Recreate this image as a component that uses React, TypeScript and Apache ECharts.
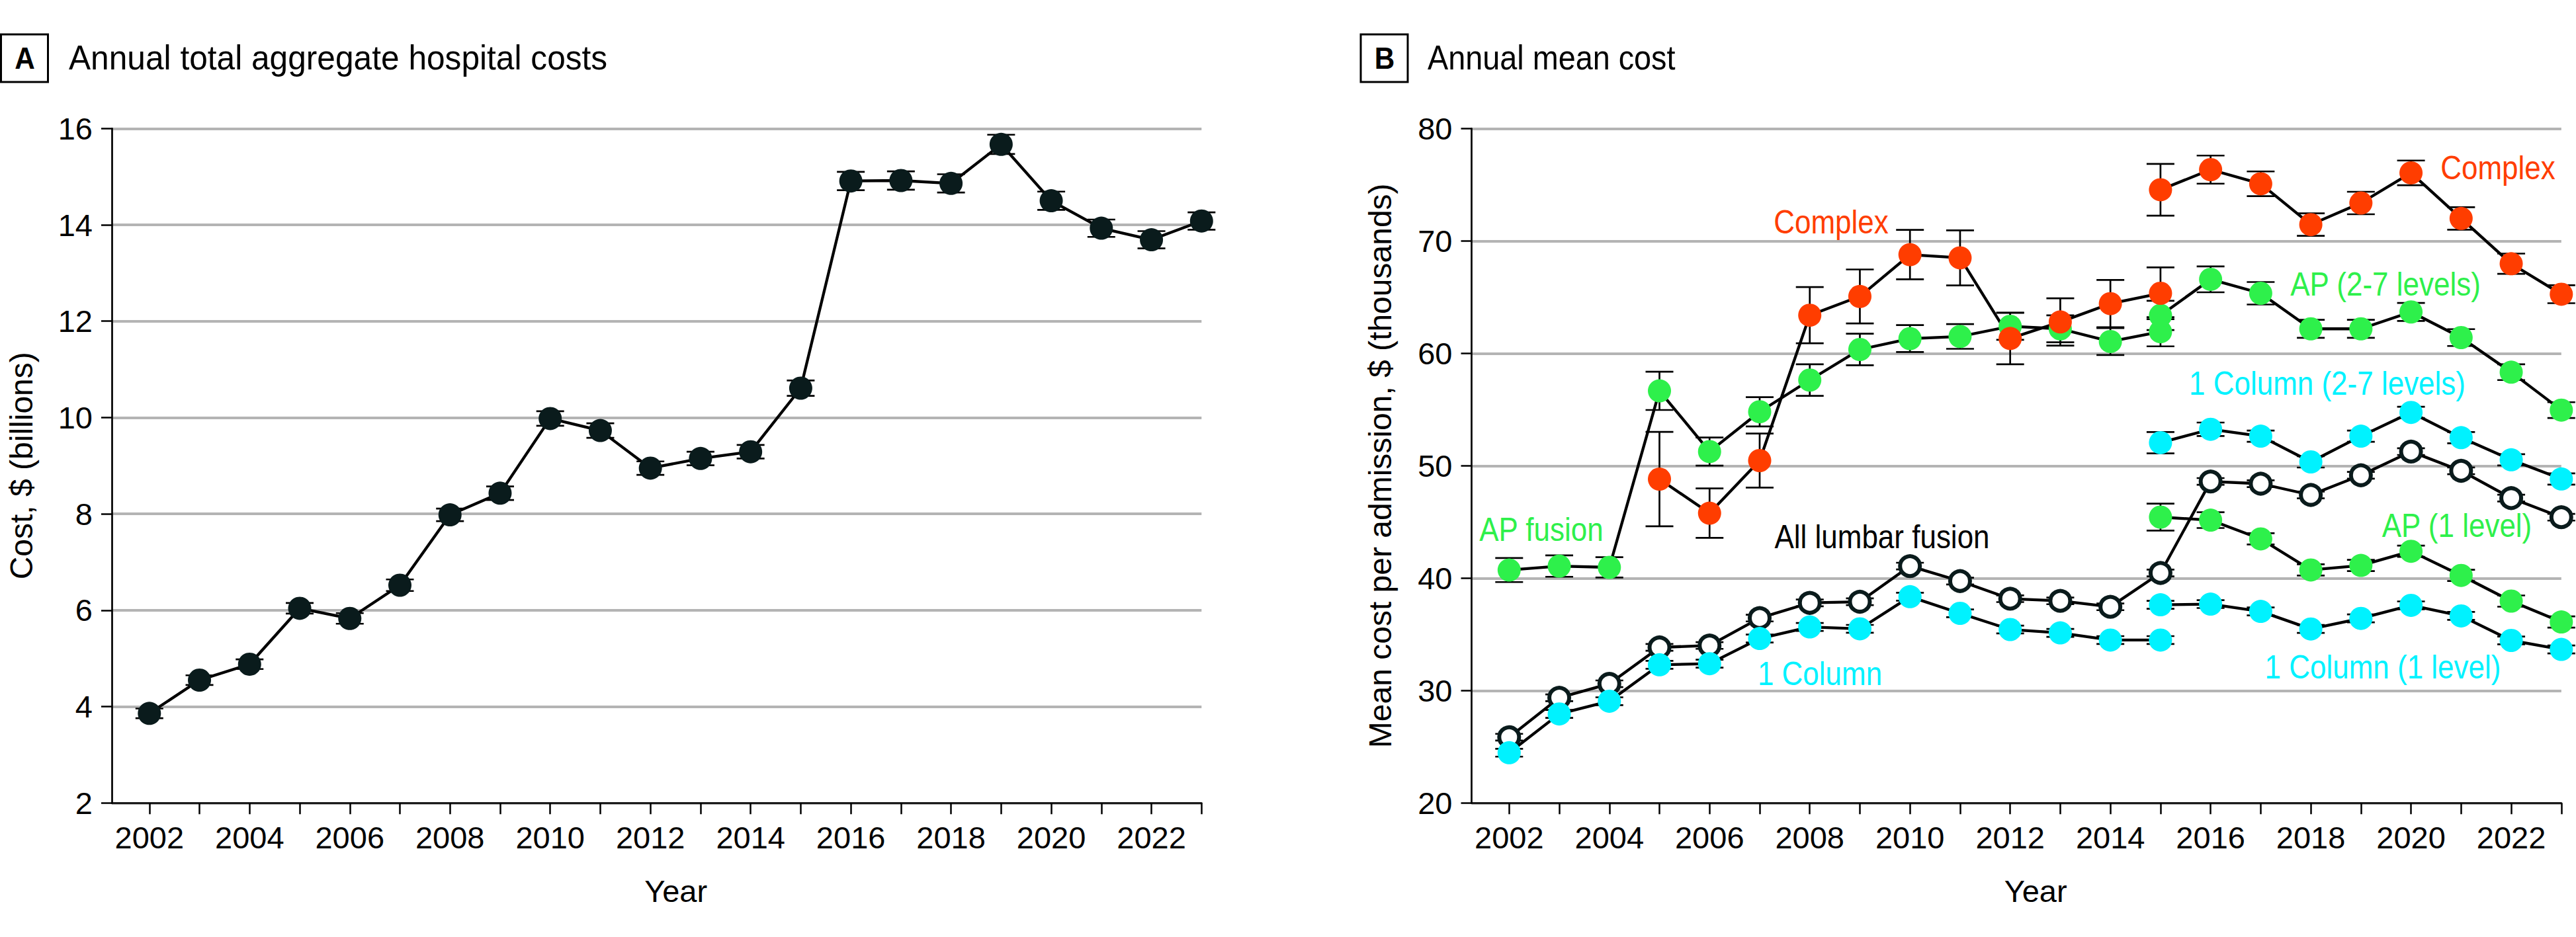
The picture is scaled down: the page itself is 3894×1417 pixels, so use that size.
import React, { useEffect, useRef } from "react";
import * as echarts from "echarts";

// ---------- Shared axis values ----------
const years = [2002, 2003, 2004, 2005, 2006, 2007, 2008, 2009, 2010, 2011, 2012, 2013, 2014, 2015, 2016, 2017, 2018, 2019, 2020, 2021, 2022, 2023];
const yearLabels = [2002, 2004, 2006, 2008, 2010, 2012, 2014, 2016, 2018, 2020, 2022];

// ---------- Panel A: annual total aggregate hospital costs ($ billions) ----------
const aggregateCost = [3.86, 4.55, 4.88, 6.04, 5.83, 6.52, 7.98, 8.43, 9.98, 9.73, 8.95, 9.15, 9.29, 10.61, 14.91, 14.92, 14.86, 15.67, 14.5, 13.93, 13.69, 14.08];
const aggregateCostErr = [0.1, 0.1, 0.1, 0.11, 0.11, 0.12, 0.13, 0.14, 0.15, 0.15, 0.14, 0.14, 0.14, 0.16, 0.19, 0.19, 0.19, 0.2, 0.19, 0.18, 0.18, 0.18];

// ---------- Panel B: annual mean cost per admission ($ thousands) ----------
const earlyYears = [2002, 2003, 2004, 2005, 2006, 2007, 2008, 2009, 2010, 2011, 2012, 2013, 2014, 2015];
const complexEarlyYears = [2005, 2006, 2007, 2008, 2009, 2010, 2011, 2012, 2013, 2014, 2015];
const lateYears = [2015, 2016, 2017, 2018, 2019, 2020, 2021, 2022, 2023];

const allLumbar = [25.85, 29.36, 30.6, 33.84, 34.01, 36.45, 37.8, 37.9, 41.07, 39.74, 38.17, 37.98, 37.45, 40.46, 48.6, 48.4, 47.4, 49.15, 51.26, 49.55, 47.12, 45.42];
const allLumbarErr = [0.3, 0.3, 0.3, 0.3, 0.3, 0.3, 0.3, 0.3, 0.3, 0.3, 0.3, 0.3, 0.3, 0.3, 0.3, 0.3, 0.3, 0.3, 0.3, 0.3, 0.3, 0.3];

const apFusion = [40.72, 41.07, 40.96, 56.66, 51.26, 54.8, 57.62, 60.34, 61.31, 61.5, 62.4, 62.18, 61.05, 61.92];
const apFusionErr = [1.07, 0.95, 0.9, 1.7, 1.25, 1.3, 1.4, 1.4, 1.2, 1.1, 1.2, 1.2, 1.2, 1.3];

const oneColumn = [24.47, 27.92, 29.05, 32.29, 32.39, 34.63, 35.66, 35.49, 38.35, 36.87, 35.43, 35.13, 34.49, 34.49];
const oneColumnErr = [0.35, 0.35, 0.35, 0.35, 0.35, 0.35, 0.35, 0.35, 0.35, 0.35, 0.35, 0.35, 0.35, 0.35];

const complexEarly = [48.81, 45.78, 50.46, 63.39, 65.06, 68.78, 68.49, 61.32, 62.79, 64.42, 65.34];
const complexEarlyErr = [4.2, 2.2, 2.4, 2.5, 2.4, 2.2, 2.45, 2.3, 2.1, 2.1, 2.3];

const complexLate = [74.55, 76.34, 75.08, 71.45, 73.37, 76.05, 72.0, 67.97, 65.26];
const complexLateErr = [2.3, 1.25, 1.1, 1.0, 1.0, 1.1, 1.0, 0.9, 0.8];

const apMulti = [63.37, 66.58, 65.34, 62.18, 62.18, 63.68, 61.4, 58.32, 54.95];
const apMultiErr = [1.3, 1.15, 1.0, 0.8, 0.8, 0.8, 0.75, 0.7, 0.7];

const apSingle = [45.43, 45.16, 43.49, 40.73, 41.13, 42.39, 40.24, 37.96, 36.1];
const apSingleErr = [1.2, 0.7, 0.5, 0.5, 0.5, 0.5, 0.5, 0.5, 0.5];

const columnMulti = [52.05, 53.24, 52.63, 50.34, 52.63, 54.74, 52.5, 50.53, 48.82];
const columnMultiErr = [0.95, 0.6, 0.5, 0.5, 0.5, 0.5, 0.5, 0.5, 0.5];

const columnSingle = [37.63, 37.69, 37.04, 35.48, 36.42, 37.58, 36.64, 34.46, 33.66];
const columnSingleErr = [0.35, 0.35, 0.35, 0.35, 0.35, 0.35, 0.35, 0.35, 0.35];

// ---------- Styling ----------
const FONT = '"Liberation Sans", Arial, sans-serif';
const DARK = "#0a1b1c";
const ORANGE = "#ff3d00";
const GREEN = "#2ef04b";
const CYAN = "#00f2ff";
const GRID_GRAY = "#b4b4b4";
const SYMBOL = 35;

const pairs = (xs: number[], ys: number[]) => xs.map((x, i) => [x, ys[i]]);
const bounds = (xs: number[], ys: number[], es: number[]) => xs.map((x, i) => [x, ys[i] - es[i], ys[i] + es[i]]);

function errorBars(name: string, gridIdx: number, xs: number[], ys: number[], es: number[]) {
  return {
    type: "custom",
    name: name + " CI",
    xAxisIndex: gridIdx,
    yAxisIndex: gridIdx,
    silent: true,
    z: 1,
    encode: { x: 0, y: [1, 2] },
    data: bounds(xs, ys, es),
    renderItem: (_params: any, api: any) => {
      const x = api.value(0);
      const lo = api.coord([x, api.value(1)]);
      const hi = api.coord([x, api.value(2)]);
      const half = 21;
      const st = { stroke: "#000", lineWidth: 2.7 };
      return {
        type: "group",
        children: [
          { type: "line", shape: { x1: lo[0], y1: lo[1], x2: hi[0], y2: hi[1] }, style: st },
          { type: "line", shape: { x1: lo[0] - half, y1: lo[1], x2: lo[0] + half, y2: lo[1] }, style: st },
          { type: "line", shape: { x1: hi[0] - half, y1: hi[1], x2: hi[0] + half, y2: hi[1] }, style: st },
        ],
      };
    },
  };
}

function lineSeries(name: string, gridIdx: number, xs: number[], ys: number[], color: string, hollow = false) {
  return {
    type: "line",
    name,
    xAxisIndex: gridIdx,
    yAxisIndex: gridIdx,
    silent: true,
    z: 3,
    data: pairs(xs, ys),
    symbol: "circle",
    symbolSize: hollow ? 30 : SYMBOL,
    showAllSymbol: true,
    lineStyle: { color: "#000", width: 4.3 },
    itemStyle: hollow
      ? { color: "#ffffff", borderColor: DARK, borderWidth: 6 }
      : { color, borderWidth: 0 },
    emphasis: { disabled: true },
  };
}

function xAxisFor(gridIndex: number) {
  return {
    gridIndex,
    type: "value",
    min: 2001.25,
    max: 2023,
    axisLine: { show: true, onZero: false, lineStyle: { color: "#000", width: 2.7 } },
    axisTick: { show: true, inside: false, length: 17, customValues: years, lineStyle: { color: "#000", width: 2.5 } },
    axisLabel: {
      show: true,
      customValues: yearLabels,
      formatter: (v: number) => String(v),
      fontSize: 47,
      fontFamily: FONT,
      color: "#000",
      margin: 29,
    },
    splitLine: { show: false },
    name: "Year",
    nameLocation: "middle",
    nameGap: 110,
    nameTextStyle: { fontSize: 47, fontFamily: FONT, color: "#000", padding: [0, 0, 0, 58] },
  };
}

function yAxisFor(gridIndex: number, min: number, max: number, interval: number, name: string, nameGap: number) {
  return {
    gridIndex,
    type: "value",
    min,
    max,
    interval,
    axisLine: { show: true, lineStyle: { color: "#000", width: 2.7 } },
    axisTick: { show: true, inside: false, length: 16, lineStyle: { color: "#000", width: 2.5 } },
    axisLabel: { fontSize: 47, fontFamily: FONT, color: "#000", margin: 29 },
    splitLine: { show: true, lineStyle: { color: GRID_GRAY, width: 4 } },
    name,
    nameLocation: "middle",
    nameGap,
    nameRotate: 90,
    nameTextStyle: { fontSize: 48, fontFamily: FONT, color: "#000" },
  };
}

// Condensed-looking annotation text: a larger size squeezed horizontally
function seriesLabel(text: string, x: number, y: number, color: string) {
  return {
    type: "text",
    x,
    y,
    scaleX: 0.88,
    silent: true,
    style: { text, fill: color, fontSize: 50, fontFamily: FONT, align: "center", verticalAlign: "middle" },
  };
}

function panelTag(letter: string, x: number) {
  return [
    { type: "rect", shape: { x, y: 52, width: 71, height: 72 }, style: { fill: "none", stroke: "#000", lineWidth: 3 }, silent: true },
    {
      type: "text",
      x: x + 36,
      y: 88,
      scaleX: 0.9,
      silent: true,
      style: { text: letter, fill: "#000", fontSize: 47, fontWeight: "bold", fontFamily: FONT, align: "center", verticalAlign: "middle" },
    },
  ];
}

function panelTitle(text: string, x: number, squeeze: number) {
  return {
    type: "text",
    x,
    y: 87,
    scaleX: squeeze,
    silent: true,
    style: { text, fill: "#000", fontSize: 52, fontFamily: FONT, align: "left", verticalAlign: "middle" },
  };
}

export default function App() {
  const ref = useRef<HTMLDivElement>(null);

  useEffect(() => {
    if (!ref.current) return;
    const chart = echarts.init(ref.current, undefined, { renderer: "svg" });

    const option: any = {
      animation: false,
      backgroundColor: "#ffffff",
      grid: [
        { left: 169, top: 194.3, width: 1647.3, height: 1020, outerBoundsMode: "none", containLabel: false },
        { left: 2224.5, top: 194.3, width: 1647.3, height: 1020, outerBoundsMode: "none", containLabel: false },
      ],
      xAxis: [xAxisFor(0), xAxisFor(1)],
      yAxis: [
        yAxisFor(0, 2, 16, 2, "Cost, $ (billions)", 113),
        yAxisFor(1, 20, 80, 10, "Mean cost per admission, $ (thousands)", 114),
      ],
      series: [
        // Panel A
        errorBars("Aggregate cost", 0, years, aggregateCost, aggregateCostErr),
        lineSeries("Aggregate cost", 0, years, aggregateCost, DARK),

        // Panel B
        errorBars("All lumbar fusion", 1, years, allLumbar, allLumbarErr),
        errorBars("AP fusion", 1, earlyYears, apFusion, apFusionErr),
        errorBars("AP (2-7 levels)", 1, lateYears, apMulti, apMultiErr),
        errorBars("AP (1 level)", 1, lateYears, apSingle, apSingleErr),
        errorBars("Complex", 1, complexEarlyYears, complexEarly, complexEarlyErr),
        errorBars("Complex (2015-2023)", 1, lateYears, complexLate, complexLateErr),
        errorBars("1 Column", 1, earlyYears, oneColumn, oneColumnErr),
        errorBars("1 Column (2-7 levels)", 1, lateYears, columnMulti, columnMultiErr),
        errorBars("1 Column (1 level)", 1, lateYears, columnSingle, columnSingleErr),

        lineSeries("All lumbar fusion", 1, years, allLumbar, DARK, true),
        lineSeries("AP fusion", 1, earlyYears, apFusion, GREEN),
        lineSeries("AP (2-7 levels)", 1, lateYears, apMulti, GREEN),
        lineSeries("AP (1 level)", 1, lateYears, apSingle, GREEN),
        lineSeries("Complex", 1, complexEarlyYears, complexEarly, ORANGE),
        lineSeries("Complex (2015-2023)", 1, lateYears, complexLate, ORANGE),
        lineSeries("1 Column", 1, earlyYears, oneColumn, CYAN),
        lineSeries("1 Column (2-7 levels)", 1, lateYears, columnMulti, CYAN),
        lineSeries("1 Column (1 level)", 1, lateYears, columnSingle, CYAN),
      ],
      graphic: [
        ...panelTag("A", 1.5),
        panelTitle("Annual total aggregate hospital costs", 104, 0.955),
        ...panelTag("B", 2057),
        panelTitle("Annual mean cost", 2158, 0.9),
        seriesLabel("Complex", 2768, 335, ORANGE),
        seriesLabel("Complex", 3776, 253, ORANGE),
        seriesLabel("AP (2-7 levels)", 3606, 429, GREEN),
        seriesLabel("1 Column (2-7 levels)", 3518, 579, CYAN),
        seriesLabel("AP (1 level)", 3714, 794, GREEN),
        seriesLabel("1 Column (1 level)", 3602, 1008, CYAN),
        seriesLabel("All lumbar fusion", 2845, 811, "#000"),
        seriesLabel("AP fusion", 2330, 800, GREEN),
        seriesLabel("1 Column", 2751, 1018, CYAN),
      ],
    };

    chart.setOption(option);
    return () => chart.dispose();
  }, []);

  return (
    <div
      ref={ref}
      style={{ position: "absolute", left: 0, top: 0, width: 3894, height: 1417, background: "#fff" }}
    />
  );
}
